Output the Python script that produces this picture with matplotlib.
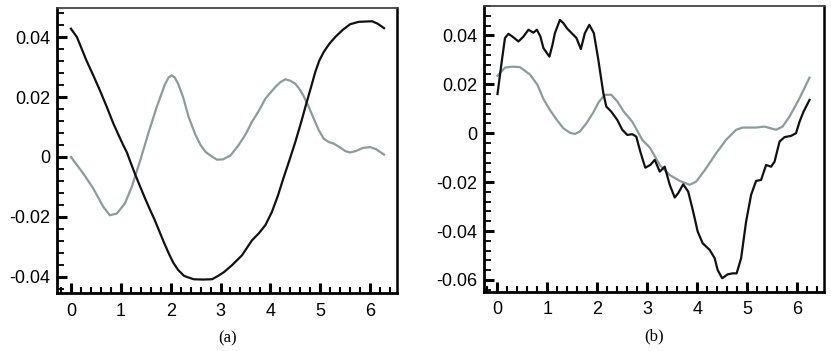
import numpy as np
import matplotlib.pyplot as plt
from matplotlib.ticker import MultipleLocator, FuncFormatter

# panel (a)
a_black_x = [0, 0.12, 0.31, 0.45, 0.58, 0.72, 0.85, 0.97, 1.05, 1.12, 1.18, 1.28, 1.39, 1.49,
             1.59, 1.67, 1.75, 1.86, 1.96, 2.05, 2.15, 2.27, 2.46, 2.65, 2.83, 2.95, 3.07,
             3.23, 3.43, 3.63, 3.77, 3.90, 4.03, 4.15, 4.26, 4.38, 4.50, 4.62, 4.73, 4.82,
             4.90, 4.98, 5.07, 5.18, 5.30, 5.45, 5.60, 5.77, 5.90, 6.04, 6.15, 6.28]
a_black_y = [0.0429, 0.0401, 0.0323, 0.0272, 0.0223, 0.0167, 0.0112, 0.0068, 0.0039, 0.0016,
             -0.0011, -0.0055, -0.0100, -0.0140, -0.0178, -0.0207, -0.0239, -0.0284, -0.0322,
             -0.0353, -0.0378, -0.0398, -0.0409, -0.0410, -0.0409, -0.0398, -0.0385, -0.0362,
             -0.0329, -0.0279, -0.0255, -0.0228, -0.0184, -0.0130, -0.0072, -0.0012, 0.0050,
             0.0118, 0.0184, 0.0236, 0.0284, 0.0322, 0.0351, 0.0378, 0.0401, 0.0425, 0.0444,
             0.0452, 0.0453, 0.0454, 0.0446, 0.0431]
a_gray_x = [0, 0.25, 0.45, 0.65, 0.78, 0.92, 1.08, 1.22, 1.39, 1.55, 1.72, 1.89, 1.96, 2.02,
            2.08, 2.15, 2.25, 2.36, 2.50, 2.60, 2.70, 2.82, 2.93, 3.05, 3.20, 3.36, 3.50,
            3.63, 3.77, 3.90, 4.00, 4.10, 4.20, 4.30, 4.40, 4.50, 4.58, 4.66, 4.77, 4.87,
            4.97, 5.07, 5.17, 5.27, 5.40, 5.50, 5.60, 5.72, 5.85, 6.00, 6.12, 6.28]
a_gray_y = [0.0, -0.0056, -0.0106, -0.0167, -0.0195, -0.0189, -0.0156, -0.0100, -0.0011, 0.0078,
            0.0167, 0.0245, 0.0266, 0.0273, 0.0266, 0.0245, 0.0200, 0.0134, 0.0073, 0.0040,
            0.0017, 0.0002, -0.0009, -0.0008, 0.0005, 0.0039, 0.0075, 0.0117, 0.0155, 0.0195,
            0.0215, 0.0234, 0.0250, 0.0260, 0.0255, 0.0245, 0.0228, 0.0206, 0.0168, 0.0128,
            0.0090, 0.0061, 0.0050, 0.0045, 0.0032, 0.0020, 0.0015, 0.0020, 0.0030, 0.0033,
            0.0026, 0.0008]

# panel (b)
b_black_x = [0.0, 0.09, 0.15, 0.22, 0.30, 0.42, 0.52, 0.62, 0.72, 0.79, 0.86, 0.92, 1.04,
             1.10, 1.15, 1.25, 1.32, 1.39, 1.52, 1.58, 1.67, 1.75, 1.84, 1.93, 2.02, 2.12,
             2.18, 2.28, 2.40, 2.50, 2.60, 2.70, 2.78, 2.86, 2.96, 3.06, 3.15, 3.25, 3.35,
             3.45, 3.55, 3.62, 3.72, 3.82, 3.92, 4.01, 4.11, 4.25, 4.35, 4.41, 4.50, 4.61,
             4.71, 4.79, 4.88, 4.98, 5.08, 5.18, 5.28, 5.38, 5.48, 5.55, 5.65, 5.75, 5.88,
             5.98, 6.05, 6.13, 6.25]
b_black_y = [0.0160, 0.0300, 0.0389, 0.0406, 0.0395, 0.0375, 0.0395, 0.0423, 0.0411, 0.0423,
             0.0395, 0.0348, 0.0313, 0.0360, 0.0409, 0.0463, 0.0450, 0.0429, 0.0402, 0.0390,
             0.0344, 0.0409, 0.0443, 0.0409, 0.0300, 0.0164, 0.0109, 0.0088, 0.0054, 0.0014,
             -0.0007, -0.0004, -0.0014, -0.0075, -0.0141, -0.0130, -0.0109, -0.0157, -0.0137,
             -0.0211, -0.0263, -0.0245, -0.0209, -0.0239, -0.0321, -0.0402, -0.0450, -0.0477,
             -0.0511, -0.0559, -0.0593, -0.0577, -0.0573, -0.0573, -0.0511, -0.0361, -0.0252,
             -0.0195, -0.0191, -0.0130, -0.0137, -0.0116, -0.0034, -0.0016, -0.0011, 0.0,
             0.0047, 0.0088, 0.0136]
b_gray_x = [0.0, 0.15, 0.30, 0.45, 0.65, 0.80, 0.92, 1.05, 1.19, 1.32, 1.45, 1.55, 1.65,
            1.78, 1.92, 2.03, 2.15, 2.28, 2.40, 2.53, 2.70, 2.90, 3.06, 3.25, 3.45, 3.65,
            3.85, 3.98, 4.18, 4.38, 4.58, 4.78, 4.91, 5.18, 5.35, 5.58, 5.71, 5.85, 6.05, 6.25]
b_gray_y = [0.0235, 0.0268, 0.0272, 0.0270, 0.0240, 0.0198, 0.0140, 0.0095, 0.0054, 0.0020,
            0.0002, -0.0003, 0.0007, 0.0040, 0.0085, 0.0128, 0.0157, 0.0157, 0.0130, 0.0088,
            0.0047, -0.0027, -0.0061, -0.0130, -0.0171, -0.0195, -0.0211, -0.0198, -0.0143,
            -0.0082, -0.0027, 0.0014, 0.0023, 0.0023, 0.0027, 0.0014, 0.0027, 0.0068, 0.0143,
            0.0227]

BLACK = '#111111'
GRAY = '#8a9c9c'


def fmt(v, pos):
    if abs(v) < 1e-9:
        return '0'
    return '%.2f' % v


def style(ax, ylim, label):
    ax.set_xlim(-0.27, 6.54)
    ax.set_ylim(*ylim)
    ax.xaxis.set_major_locator(MultipleLocator(1))
    ax.xaxis.set_minor_locator(MultipleLocator(0.2))
    ax.yaxis.set_major_locator(MultipleLocator(0.02))
    ax.yaxis.set_minor_locator(MultipleLocator(0.004))
    ax.yaxis.set_major_formatter(FuncFormatter(fmt))
    ax.tick_params(which='both', direction='in', top=False, right=False,
                   labelsize=13, color='black')
    ax.tick_params(axis='x', which='major', length=7, width=2.2, pad=7)
    ax.tick_params(axis='x', which='minor', length=4, width=1.5)
    ax.tick_params(axis='y', which='major', length=7, width=2.2, pad=5)
    ax.tick_params(axis='y', which='minor', length=5, width=1.3)
    for lab in ax.get_xticklabels() + ax.get_yticklabels():
        lab.set_fontfamily('Liberation Sans')
    ax.spines['left'].set_linewidth(2)
    ax.spines['bottom'].set_linewidth(2)
    ax.spines['right'].set_linewidth(1.8)
    ax.spines['top'].set_linewidth(1.3)
    ax.spines['top'].set_color('#444444')
    ax.text(0.5, -0.158, label, transform=ax.transAxes, ha='center', va='center',
            fontsize=12, family='Liberation Serif')


fig = plt.figure(figsize=(8.31, 3.51), dpi=100)
ax1 = fig.add_axes([57.5 / 831, 58 / 351, 339.5 / 831, 285.5 / 351])
ax2 = fig.add_axes([484 / 831, 59.3 / 351, 340 / 831, 285.7 / 351])

ax1.plot(a_gray_x, a_gray_y, color=GRAY, lw=1.6)
ax1.plot(a_black_x, a_black_y, color=BLACK, lw=1.6)
style(ax1, (-0.0455, 0.050), '(a)')

ax2.plot(b_gray_x, b_gray_y, color=GRAY, lw=1.6)
ax2.plot(b_black_x, b_black_y, color=BLACK, lw=1.6)
style(ax2, (-0.0648, 0.052), '(b)')

fig.savefig('out.png', dpi=100)
